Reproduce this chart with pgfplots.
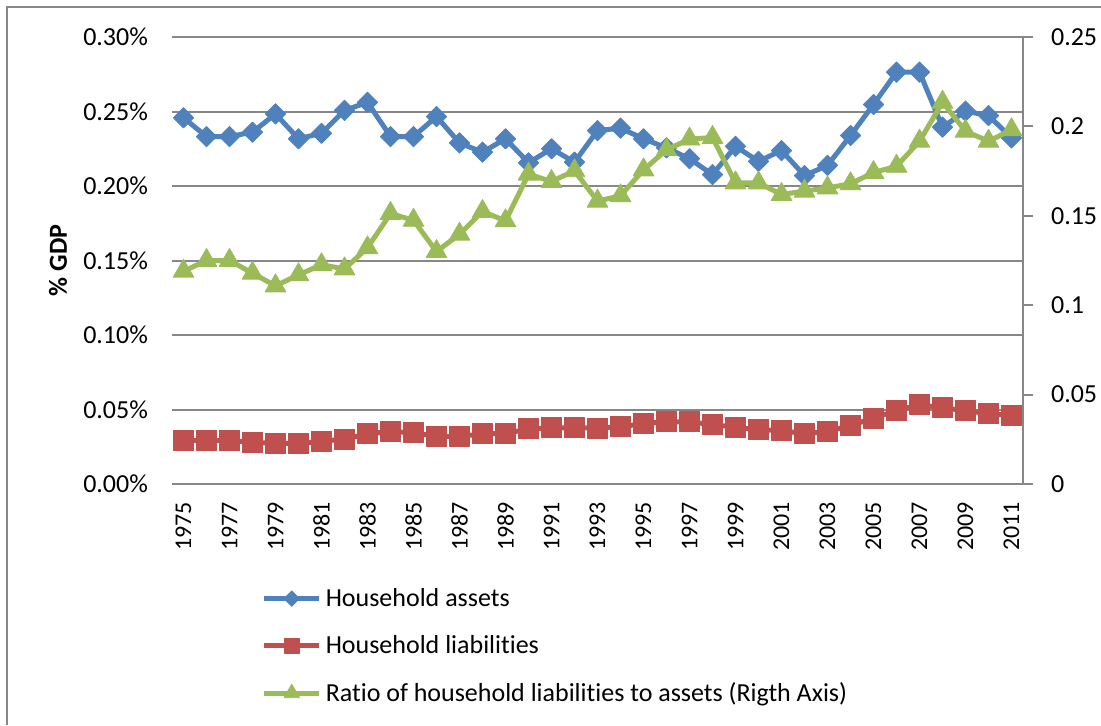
\documentclass[border=0pt]{standalone}
\usepackage{fontspec}
\setmainfont{Carlito}[Ligatures=NoCommon]
\usepackage{pgfplots}
\usepackage{pgfplotstable}
\pgfplotsset{compat=1.18}
\definecolor{xlblue}{HTML}{4F81BD}
\definecolor{xlred}{HTML}{C0504D}
\definecolor{xlgreen}{HTML}{9BBB59}
\definecolor{xlgrid}{HTML}{878787}

\pgfplotstableread{
year assets liab ratio
1975 0.2458 0.0292 0.1190
1976 0.2332 0.0292 0.1250
1977 0.2332 0.0292 0.1250
1978 0.2361 0.0279 0.1179
1979 0.2484 0.0274 0.1108
1980 0.2317 0.0270 0.1170
1981 0.2354 0.0287 0.1226
1982 0.2507 0.0301 0.1203
1983 0.2562 0.0337 0.1321
1984 0.2332 0.0352 0.1513
1985 0.2332 0.0344 0.1475
1986 0.2466 0.0319 0.1300
1987 0.2289 0.0319 0.1397
1988 0.2227 0.0337 0.1524
1989 0.2317 0.0339 0.1472
1990 0.2156 0.0370 0.1733
1991 0.2250 0.0377 0.1692
1992 0.2160 0.0377 0.1752
1993 0.2372 0.0375 0.1582
1994 0.2388 0.0384 0.1612
1995 0.2317 0.0406 0.1757
1996 0.2256 0.0417 0.1869
1997 0.2183 0.0417 0.1929
1998 0.2077 0.0399 0.1938
1999 0.2266 0.0381 0.1684
2000 0.2166 0.0364 0.1684
2001 0.2238 0.0359 0.1619
2002 0.2070 0.0337 0.1638
2003 0.2138 0.0352 0.1656
2004 0.2339 0.0393 0.1679
2005 0.2547 0.0442 0.1742
2006 0.2764 0.0493 0.1777
2007 0.2764 0.0532 0.1917
2008 0.2395 0.0511 0.2135
2009 0.2502 0.0493 0.1973
2010 0.2473 0.0471 0.1917
2011 0.2323 0.0460 0.1981
}\data

\pgfplotsset{
  base/.style={
    at={(86pt,120.5pt)}, anchor=south west,
    width=425.5pt, height=223.5pt, scale only axis,
    xmin=1974.5, xmax=2011.5,
    font=\fontsize{13}{15.6}\selectfont,
    scaled ticks=false,
    clip=false,
  },
  sblue/.style={color=xlblue, line width=2.5pt, line join=round,
    mark=square*, mark size=3.6pt, mark options={solid, rotate=45, fill=xlblue, line width=0.4pt}},
  sred/.style={color=xlred, line width=2.5pt, line join=round,
    mark=square*, mark size=5pt, mark options={solid, fill=xlred, line width=0.4pt}},
  sgreen/.style={color=xlgreen, line width=2.5pt, line join=round,
    mark=triangle*, mark size=6pt, mark options={solid, fill=xlgreen, line width=0.4pt}},
}

\begin{document}
\begin{tikzpicture}
\path[use as bounding box] (0,0) rectangle (550.5pt,362.5pt);
\draw[xlgrid, line width=1pt] (3.5pt,0) -- (3.5pt,359pt) -- (552pt,359pt);

\begin{axis}[base,
  ymin=0, ymax=0.30,
  ytick={0,0.05,0.10,0.15,0.20,0.25,0.30},
  yticklabels={0.00\%,0.05\%,0.10\%,0.15\%,0.20\%,0.25\%,0.30\%},
  yticklabel style={xshift=-8.5pt},
  xtick={1975,1977,1979,1981,1983,1985,1987,1989,1991,1993,1995,1997,1999,2001,2003,2005,2007,2009,2011},
  xticklabels={1975,1977,1979,1981,1983,1985,1987,1989,1991,1993,1995,1997,1999,2001,2003,2005,2007,2009,2011},
  xticklabel style={rotate=90, anchor=east, font=\fontsize{12}{14}\selectfont},
  xticklabel shift=5.5pt,
  axis x line*=bottom, axis y line*=left,
  y axis line style={draw=none},
  x axis line style={xlgrid, line width=1pt},
  tick style={draw=none},
  ymajorgrids, grid style={xlgrid, line width=1pt},
  ylabel={\bfseries \% GDP},
  ylabel style={at={(axis description cs:-0.134,0.5)}, anchor=center},
  legend style={at={(axis description cs:0.105,-0.223)}, anchor=north west,
    draw=none, fill=none, row sep=9pt, inner sep=0pt,
    font=\fontsize{13}{15.6}\selectfont},
  legend cell align=left,
  legend image code/.code={
    \draw[mark repeat=2, mark phase=2, every mark/.append style={scale=0.75}]
      plot coordinates {(0pt,0pt) (13.75pt,0pt) (27.5pt,0pt)};},
]
\addplot[sblue] table[x=year, y=assets] {\data};
\addlegendentry{Household assets}
\addplot[sred] table[x=year, y=liab] {\data};
\addlegendentry{Household liabilities}
\addlegendimage{sgreen}
\addlegendentry{Ratio of household liabilities to assets (Rigth Axis)}
\end{axis}

\begin{axis}[base,
  ymin=0, ymax=0.25,
  ytick={0,0.05,0.10,0.15,0.20,0.25},
  yticklabels={0,0.05,0.1,0.15,0.2,0.25},
  axis y line*=right, axis x line=none,
  y axis line style={xlgrid, line width=1pt},
  ytick style={xlgrid, line width=1pt},
  ytick align=outside, major tick length=5pt,
  yticklabel style={anchor=west, xshift=5.5pt},
]
\addplot[sgreen] table[x=year, y=ratio] {\data};
\end{axis}
\end{tikzpicture}
\end{document}
